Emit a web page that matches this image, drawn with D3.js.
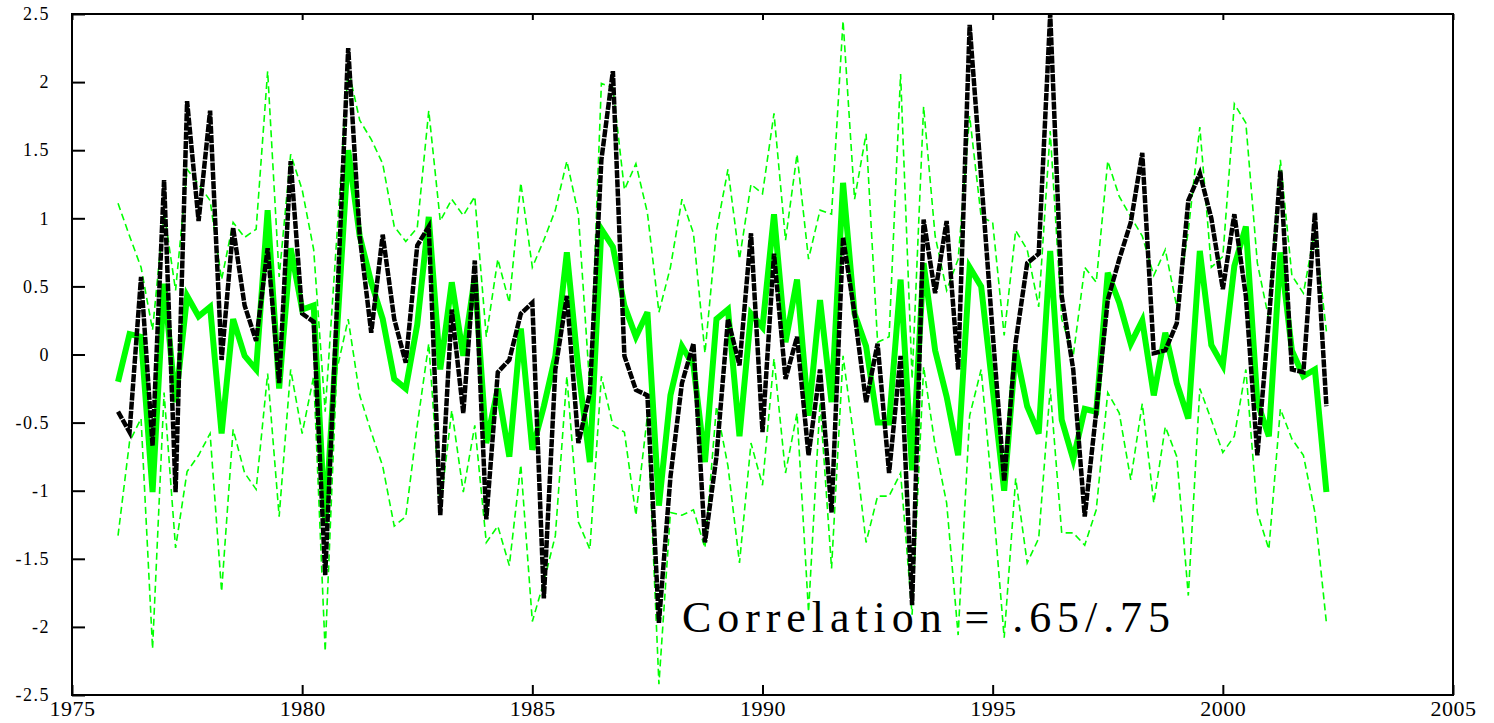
<!DOCTYPE html>
<html>
<head>
<meta charset="utf-8">
<script src="https://cdn.jsdelivr.net/npm/d3@7"></script>
<style>
  html, body { margin: 0; padding: 0; background: #fff; }
  svg { display: block; }
  svg text { font-family: "Times New Roman", "Liberation Serif", Times, serif; }
</style>
</head>
<body>
<svg id="chart"></svg>
<script>
// quarterly observations, first one at 1976.0
const startYear = 1976;
const stepYears = 0.25;

// black dashed series
const actual = [
  -0.42, -0.57, 0.57, -0.67, 1.28, -1.01, 1.86, 0.98, 1.79, -0.04,
  0.93, 0.36, 0.10, 0.78, -0.21, 1.42, 0.30, 0.24, -1.62, 0.31,
  2.25, 0.87, 0.16, 0.88, 0.26, -0.06, 0.80, 0.94, -1.18, 0.33,
  -0.43, 0.69, -1.21, -0.13, -0.04, 0.30, 0.38, -1.79, -0.11, 0.43,
  -0.65, -0.28, 1.43, 2.08, -0.01, -0.26, -0.30, -1.97, -0.90, -0.21,
  0.08, -1.38, -0.75, 0.26, -0.08, 0.89, -0.57, 0.74, -0.18, 0.13,
  -0.74, -0.11, -1.16, 0.86, 0.30, -0.35, 0.08, -0.87, -0.01, -1.84,
  0.99, 0.45, 0.98, -0.11, 2.42, 1.30, 0.16, -0.93, 0.09, 0.67,
  0.74, 2.50, 0.43, -0.11, -1.19, -0.42, 0.40, 0.70, 0.97, 1.48,
  0.01, 0.03, 0.23, 1.13, 1.33, 1.00, 0.48, 1.03, 0.43, -0.74,
  0.25, 1.35, -0.11, -0.13, 1.04, -0.38
];

// thick green series
const fitted = [
  -0.20, 0.15, 0.13, -1.01, 0.52, -0.35, 0.43, 0.28, 0.35, -0.58,
  0.26, -0.01, -0.11, 1.06, -0.25, 0.78, 0.33, 0.36, -1.25, 0.13,
  1.50, 0.87, 0.53, 0.26, -0.18, -0.25, 0.22, 1.01, -0.11, 0.53,
  -0.01, 0.57, -0.65, -0.25, -0.75, 0.19, -0.70, -0.38, -0.01, 0.75,
  -0.11, -0.79, 0.92, 0.79, 0.36, 0.13, 0.31, -1.11, -0.30, 0.06,
  -0.08, -0.79, 0.26, 0.33, -0.60, 0.30, 0.20, 1.03, 0.09, 0.55,
  -0.45, 0.40, -0.35, 1.26, 0.30, 0.06, -0.50, -0.50, 0.55, -0.85,
  0.67, 0.03, -0.31, -0.74, 0.64, 0.50, -0.25, -1.00, 0.03, -0.38,
  -0.58, 0.76, -0.48, -0.77, -0.40, -0.42, 0.60, 0.38, 0.08, 0.25,
  -0.30, 0.16, -0.21, -0.47, 0.76, 0.07, -0.08, 0.65, 0.94, -0.35,
  -0.60, 0.75, 0.03, -0.16, -0.11, -1.01
];

// thin dashed green band, upper edge
const upper = [
  1.11, 0.87, 0.64, 0.18, 1.05, 0.47, 1.36, 1.25, 1.13, 0.55,
  0.97, 0.86, 0.92, 2.08, 0.57, 1.47, 1.21, 0.77, -0.42, 0.85,
  2.10, 1.72, 1.58, 1.40, 0.94, 0.83, 0.93, 1.79, 0.98, 1.14,
  1.02, 1.16, 0.13, 0.70, 0.38, 1.26, 0.64, 0.84, 1.06, 1.42,
  1.03, -0.25, 1.99, 1.96, 1.21, 1.40, 1.04, 0.31, 0.64, 1.14,
  0.89, 0.01, 0.91, 1.36, 0.70, 1.25, 1.18, 1.77, 0.84, 1.47,
  0.70, 1.06, 1.03, 2.45, 1.14, 1.62, 0.09, 0.13, 2.06, -0.18,
  1.82, 0.87, 0.47, 0.70, 1.75, 1.01, 0.97, 0.14, 0.91, 0.77,
  0.35, 1.64, 0.26, -0.01, 0.64, 0.53, 1.42, 1.16, 1.01, 0.87,
  0.58, 0.77, 0.35, 0.91, 1.67, 0.64, 0.72, 1.84, 1.70, 0.67,
  0.26, 1.43, 0.58, 0.45, 0.91, 0.17
];

// thin dashed green band, lower edge
const lower = [
  -1.33, -0.64, -0.47, -2.16, -0.28, -1.42, -0.86, -0.74, -0.58, -1.74,
  -0.55, -0.87, -0.99, -0.14, -1.19, -0.11, -0.58, -0.16, -2.18, -0.12,
  0.26, -0.30, -0.57, -0.82, -1.26, -1.19, -0.52, 0.08, -1.13, -0.41,
  -1.01, -0.52, -1.38, -1.26, -1.55, -0.81, -1.96, -1.67, -1.33, -0.16,
  -1.23, -1.43, -0.16, -0.52, -0.57, -1.18, -0.45, -2.42, -1.16, -1.18,
  -1.14, -1.42, -0.38, -0.82, -1.53, -0.65, -0.96, -0.03, -0.87, -0.43,
  -1.89, -0.35, -1.57, -0.01, -0.65, -1.38, -1.04, -1.04, -0.87, -1.91,
  -0.09, -0.67, -1.09, -2.06, -0.45, -0.11, -1.05, -2.08, -0.91, -1.53,
  -1.35, -0.25, -1.31, -1.31, -1.40, -1.14, -0.28, -0.43, -0.92, -0.36,
  -1.09, -0.53, -0.75, -1.77, -0.25, -0.48, -0.72, -0.60, -0.11, -1.16,
  -1.43, -0.40, -0.62, -0.74, -1.16, -1.97
];

const xTicks = [1975, 1980, 1985, 1990, 1995, 2000, 2005];
const yTicks = [-2.5, -2, -1.5, -1, -0.5, 0, 0.5, 1, 1.5, 2, 2.5];
const note = "Correlation = .65/.75";

const width = 1494;
const height = 723;
const margin = { top: 14, right: 41, bottom: 28, left: 72 };

const svg = d3.select('#chart')
  .attr('width', width)
  .attr('height', height);

const x = d3.scaleLinear()
  .domain([1975, 2005])
  .range([margin.left, width - margin.right]);

const y = d3.scaleLinear()
  .domain([-2.5, 2.5])
  .range([height - margin.bottom, margin.top]);

const dateOf = (i) => startYear + i * stepYears;

const line = d3.line()
  .x((d, i) => x(dateOf(i)))
  .y((d) => y(d));

// confidence band edges
[upper, lower].forEach((s) => {
  svg.append('path')
    .datum(s)
    .attr('d', line)
    .attr('fill', 'none')
    .attr('stroke', '#00ff00')
    .attr('stroke-width', 1.6)
    .attr('stroke-dasharray', '7,4');
});

svg.append('path')
  .datum(fitted)
  .attr('d', line)
  .attr('fill', 'none')
  .attr('stroke', '#00ff00')
  .attr('stroke-width', 6);

svg.append('path')
  .datum(actual)
  .attr('d', line)
  .attr('fill', 'none')
  .attr('stroke', '#000')
  .attr('stroke-width', 4.5)
  .attr('stroke-dasharray', '8,1.2');

// frame
svg.append('rect')
  .attr('x', x(1975))
  .attr('y', y(2.5))
  .attr('width', x(2005) - x(1975))
  .attr('height', y(-2.5) - y(2.5))
  .attr('fill', 'none')
  .attr('stroke', '#000')
  .attr('stroke-width', 2);

// axes, ticks point into the plot
const yAxis = svg.append('g')
  .attr('transform', `translate(${x(1975)},0)`)
  .call(d3.axisLeft(y).tickValues(yTicks).tickSize(-13).tickPadding(22)
    .tickFormat((d) => String(d)));

yAxis.selectAll('text')
  .attr('font-size', 18)
  .attr('fill', '#000')
  .style('letter-spacing', '1.5px');

const xAxis = svg.append('g')
  .attr('transform', `translate(0,${y(-2.5)})`)
  .call(d3.axisBottom(x).tickValues(xTicks).tickSize(-10).tickPadding(5)
    .tickFormat(d3.format('d')));

xAxis.selectAll('text')
  .attr('font-size', 22)
  .attr('fill', '#000')
  .style('letter-spacing', '0.5px');

svg.append('g')
  .attr('transform', `translate(0,${y(2.5)})`)
  .call(d3.axisTop(x).tickValues(xTicks).tickSize(-6).tickFormat(''));

svg.selectAll('.domain').attr('stroke', 'none');
svg.selectAll('.tick line').attr('stroke', '#000').attr('stroke-width', 2);

svg.append('text')
  .attr('x', 682)
  .attr('y', 632)
  .attr('textLength', 488)
  .attr('lengthAdjust', 'spacing')
  .attr('font-size', 44)
  .attr('fill', '#000')
  .text(note);
</script>
</body>
</html>
